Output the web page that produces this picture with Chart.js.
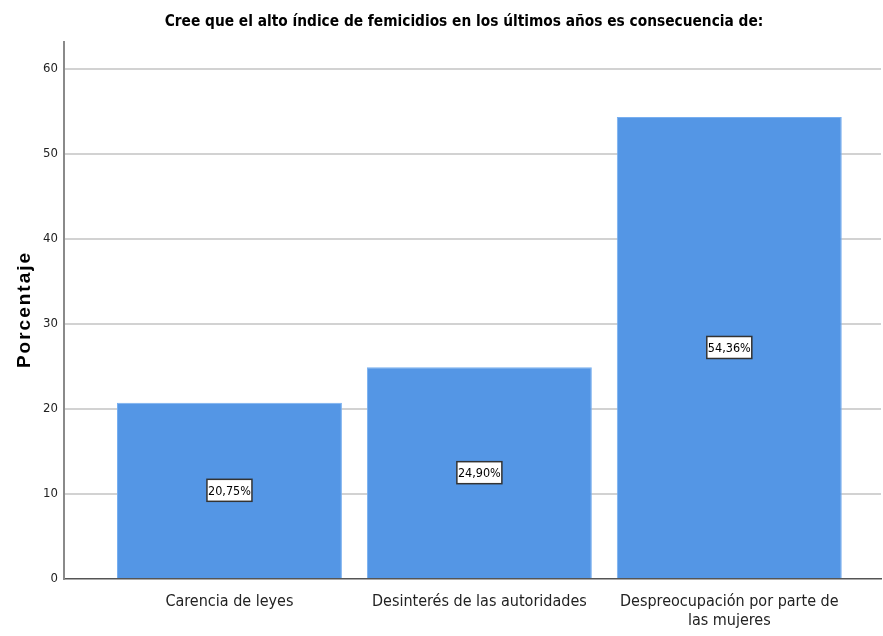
<!DOCTYPE html>
<html>
<head>
<meta charset="utf-8">
<script src="https://cdn.jsdelivr.net/npm/chart.js@4"></script>
<style>
  html, body { margin: 0; padding: 0; background: #fff; }
  #wrap { width: 883px; height: 636px; }
</style>
</head>
<body>
<div id="wrap"><canvas id="grafico" width="883" height="636"></canvas></div>
<script>
// datos
const categorias = ['Carencia de leyes', 'Desinterés de las autoridades', ['Despreocupación por parte de', 'las mujeres']];
const porcentajes = [20.75, 24.90, 54.36];
const etiquetas = ['20,75%', '24,90%', '54,36%'];
const ticksY = [0, 10, 20, 30, 40, 50, 60];

const titulo = 'Cree que el alto índice de femicidios en los últimos años es consecuencia de:';
const tituloY = 'Porcentaje';
const fuenteEstrecha = "'Liberation Sans Narrow', 'Arial Narrow', 'DejaVu Sans Condensed', sans-serif";

// titulo arriba y titulo del eje y (con espaciado entre letras)
const pluginTitulos = {
  id: 'titulos',
  afterDraw(chart) {
    const c = chart.ctx;
    const area = chart.chartArea;
    c.save();
    c.font = "bold 15.3px " + fuenteEstrecha;
    c.fillStyle = '#000';
    c.textAlign = 'center';
    c.textBaseline = 'middle';
    c.fillText(titulo, 464, 22);
    c.restore();

    c.save();
    c.translate(25, (area.top + area.bottom) / 2);
    c.rotate(-Math.PI / 2);
    c.font = "bold 19px 'Liberation Sans', Arial, sans-serif";
    c.letterSpacing = '2px';
    c.fillStyle = '#000';
    c.textAlign = 'center';
    c.textBaseline = 'middle';
    c.fillText(tituloY, 1, 0);
    c.restore();
  }
};

// cajitas con el porcentaje en el medio de cada barra
const pluginEtiquetas = {
  id: 'etiquetas',
  afterDatasetsDraw(chart) {
    const c = chart.ctx;
    const meta = chart.getDatasetMeta(0);
    c.save();
    c.font = "12.5px " + fuenteEstrecha;
    c.textAlign = 'center';
    c.textBaseline = 'middle';
    meta.data.forEach((bar, i) => {
      const x = bar.x;
      const y = (bar.y + bar.base) / 2;
      const w = 45;
      const h = 22;
      c.fillStyle = '#fff';
      c.fillRect(x - w / 2, y - h / 2, w, h);
      c.strokeStyle = '#333';
      c.lineWidth = 1.5;
      c.strokeRect(x - w / 2, y - h / 2, w, h);
      c.fillStyle = '#000';
      c.fillText(etiquetas[i], x, y + 1);
    });
    c.restore();
  }
};

const ctx = document.getElementById('grafico').getContext('2d');
const chart = new Chart(ctx, {
  type: 'bar',
  data: {
    datasets: [{
      label: 'Porcentaje',
      data: porcentajes.map((v, i) => ({ x: i, y: v })),
      backgroundColor: 'rgb(84, 150, 229)',
      borderColor: 'rgb(120, 175, 240)',
      borderWidth: 1,
      barPercentage: 0.9,
      categoryPercentage: 1
    }]
  },
  options: {
    responsive: false,
    animation: false,
    layout: { padding: { top: 42, right: 2, left: 0, bottom: 0 } },
    plugins: {
      legend: { display: false },
      tooltip: { enabled: false },
      title: { display: false }
    },
    scales: {
      x: {
        type: 'linear',
        offset: false,
        min: -0.662,
        max: 2.607,
        afterBuildTicks(scale) {
          scale.ticks = categorias.map((c, i) => ({ value: i }));
        },
        afterFit(scale) { scale.height = 57; },
        grid: { display: false, drawTicks: false },
        border: { display: true, color: '#555', width: 1.5 },
        ticks: {
          padding: 13,
          color: '#222',
          font: { size: 16, family: fuenteEstrecha },
          maxRotation: 0,
          autoSkip: false,
          callback: (v) => categorias[v]
        }
      },
      y: {
        min: 0,
        max: 63.18,
        afterBuildTicks(scale) {
          scale.ticks = ticksY.map(v => ({ value: v }));
        },
        afterFit(scale) { scale.width = 64; },
        grid: {
          drawTicks: false,
          lineWidth: 2,
          color: (c) => c.tick && c.tick.value === 0 ? 'rgba(0,0,0,0)' : '#d2d2d2'
        },
        border: { display: true, color: '#8a8a8a', width: 2 },
        ticks: {
          padding: 6,
          color: '#222',
          font: { size: 13, family: fuenteEstrecha }
        },
        title: { display: false }
      }
    }
  },
  plugins: [pluginTitulos, pluginEtiquetas]
});
</script>
</body>
</html>
